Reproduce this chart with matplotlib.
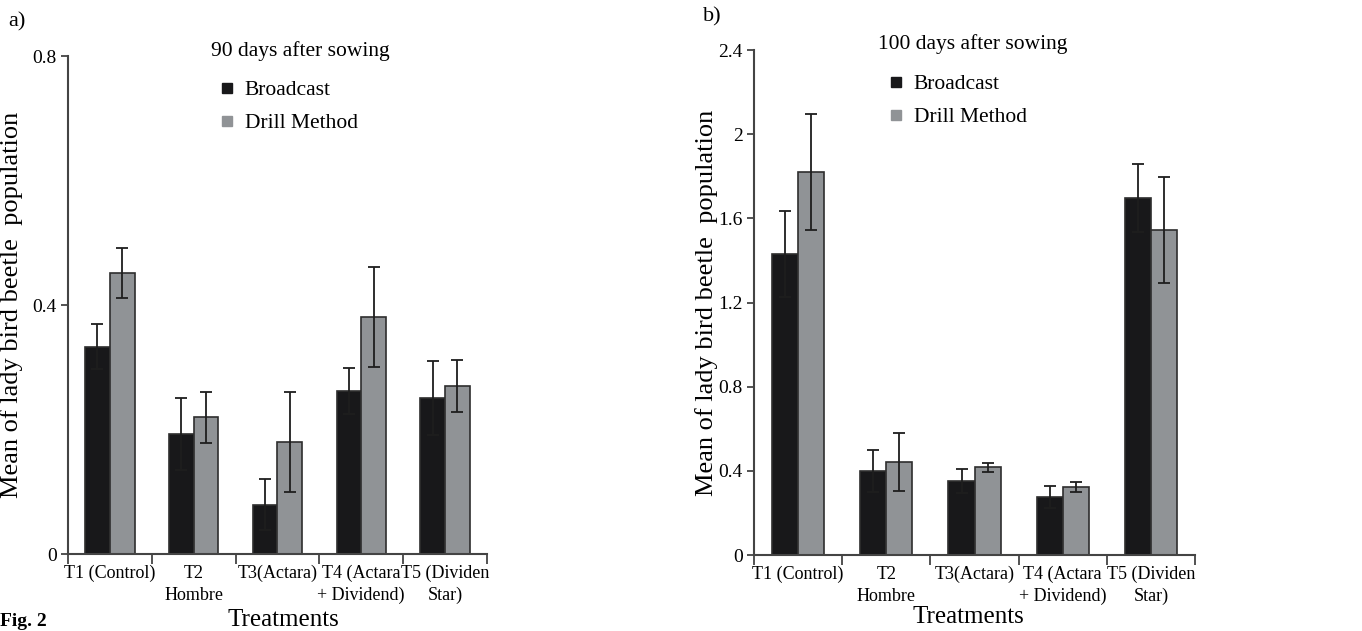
import numpy as np
import matplotlib
matplotlib.use("Agg")
import matplotlib.pyplot as plt
from matplotlib.lines import Line2D

plt.rcParams['font.family'] = ['Liberation Serif', 'DejaVu Serif']

treatments = ["T1 (Control)", "T2\nHombre", "T3(Actara)", "T4 (Actara\n+ Dividend)", "T5 (Dividen\nStar)"]
series = ["Broadcast", "Drill Method"]

# 90 days after sowing
d90_broadcast = [0.333, 0.193, 0.079, 0.262, 0.251]
d90_broadcast_err = [0.036, 0.058, 0.041, 0.037, 0.059]
d90_drill = [0.451, 0.220, 0.180, 0.381, 0.270]
d90_drill_err = [0.040, 0.041, 0.081, 0.080, 0.041]

# 100 days after sowing
d100_broadcast = [1.43, 0.40, 0.352, 0.276, 1.697]
d100_broadcast_err = [0.205, 0.10, 0.057, 0.052, 0.161]
d100_drill = [1.82, 0.442, 0.418, 0.323, 1.545]
d100_drill_err = [0.275, 0.138, 0.021, 0.024, 0.25]

black = "#18181a"
grey = "#909396"
edge = "#2e2e2e"


def panel(ax, b, be, d, de, yticks, ymax):
    x = np.arange(len(treatments))
    w = 0.295
    ekw = dict(ecolor="#1e1e1e", elinewidth=1.3, capsize=4.5, capthick=1.3)
    ax.bar(x - w / 2, b, w, color=black, edgecolor=edge, linewidth=1.2,
           yerr=be, error_kw=ekw, zorder=2)
    ax.bar(x + w / 2, d, w, color=grey, edgecolor=edge, linewidth=1.2,
           yerr=de, error_kw=ekw, zorder=2)
    ax.set_xlim(-0.5, len(treatments) - 0.5)
    ax.set_ylim(0, ymax)
    ax.set_yticks(yticks)
    ax.set_yticklabels([("%g" % v) for v in yticks], fontsize=14)
    ax.set_xticks(np.arange(-0.5, len(treatments), 1))
    ax.set_xticklabels([])
    ax.set_xticks(x, minor=True)
    ax.set_xticklabels(treatments, minor=True, fontsize=13, linespacing=1.35)
    ax.tick_params(axis="x", which="major", length=7, width=1.3, color="#444")
    ax.tick_params(axis="x", which="minor", length=0, pad=8)
    ax.tick_params(axis="y", length=5, width=1.3, color="#444", pad=3)
    for s in ["top", "right"]:
        ax.spines[s].set_visible(False)
    for s in ["left", "bottom"]:
        ax.spines[s].set_linewidth(1.5)
        ax.spines[s].set_color("#444")
    ax.set_ylabel("Mean of lady bird beetle  population", fontsize=19)


fig = plt.figure(figsize=(13.62, 6.31), dpi=100)
ax1 = fig.add_axes([0.0499, 0.122, 0.3076, 0.789])
ax2 = fig.add_axes([0.5536, 0.1204, 0.3238, 0.800])

panel(ax1, d90_broadcast, d90_broadcast_err, d90_drill, d90_drill_err, [0, 0.4, 0.8], 0.8)
panel(ax2, d100_broadcast, d100_broadcast_err, d100_drill, d100_drill_err,
      [0, 0.4, 0.8, 1.2, 1.6, 2.0, 2.4], 2.4)

ax1.yaxis.set_label_coords(-0.107, 0.5)
ax2.yaxis.set_label_coords(-0.082, 0.5)

fig.text(283 / 1362, 1 - 620 / 631, "Treatments", fontsize=18, ha="center", va="center")
fig.text(968 / 1362, 1 - 617 / 631, "Treatments", fontsize=18, ha="center", va="center")

fig.text(300 / 1362, 1 - 51 / 631, "90 days after sowing", fontsize=15.5, ha="center", va="center")
fig.text(973 / 1362, 1 - 44 / 631, "100 days after sowing", fontsize=15.5, ha="center", va="center")

fig.text(8 / 1362, 1 - 22 / 631, "a)", fontsize=16, ha="left", va="center")
fig.text(703 / 1362, 1 - 17 / 631, "b)", fontsize=16, ha="left", va="center")
fig.text(0 / 1362, 1 - 621 / 631, "Fig. 2", fontsize=14, fontweight="bold", ha="left", va="center")

handles = [Line2D([], [], marker="s", ls="", color=black, markersize=7),
           Line2D([], [], marker="s", ls="", color=grey, markersize=7)]
for ax, bx, by in [(ax1, 221 / 1362, 1 - 80 / 631), (ax2, 890 / 1362, 1 - 74 / 631)]:
    ax.legend(handles, series, loc="upper left", bbox_to_anchor=(bx, by),
              bbox_transform=fig.transFigure, frameon=False, fontsize=15.5,
              handlelength=0.6, handletextpad=0.5, labelspacing=0.6,
              borderaxespad=0, borderpad=0)

fig.savefig("out.png", dpi=100)
